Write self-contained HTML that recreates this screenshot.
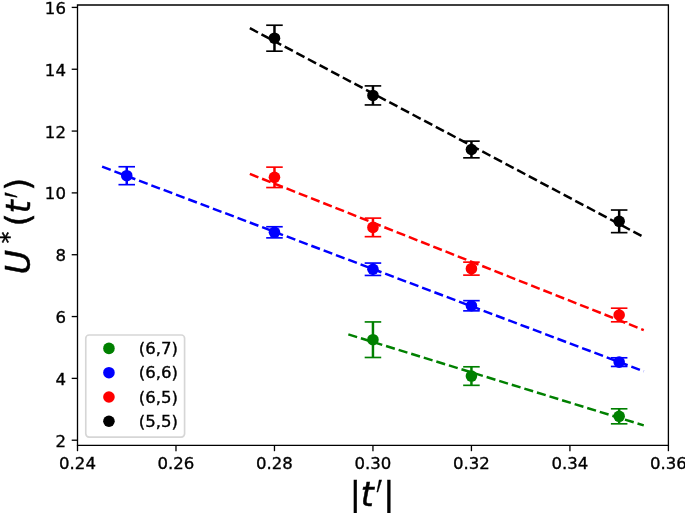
<!DOCTYPE html>
<html><head><meta charset="utf-8"><title>U*(t') vs |t'|</title>
<style>html,body{margin:0;padding:0;background:#fff;width:685px;height:513px;overflow:hidden}svg{display:block}</style>
</head><body>
<svg width="685" height="513" viewBox="0 0 685 513">
<rect width="685" height="513" fill="#fff"/>
<g stroke="#000000" fill="none">
<line x1="274.47" y1="51.19" x2="274.47" y2="25.22" stroke-width="2.482"/>
<line x1="372.95" y1="104.94" x2="372.95" y2="85.90" stroke-width="2.482"/>
<line x1="471.43" y1="157.84" x2="471.43" y2="141.14" stroke-width="2.482"/>
<line x1="619.16" y1="232.65" x2="619.16" y2="210.02" stroke-width="2.482"/>
<line x1="266.19" y1="51.19" x2="282.74" y2="51.19" stroke-width="1.655"/>
<line x1="266.19" y1="25.22" x2="282.74" y2="25.22" stroke-width="1.655"/>
<line x1="364.68" y1="104.94" x2="381.22" y2="104.94" stroke-width="1.655"/>
<line x1="364.68" y1="85.90" x2="381.22" y2="85.90" stroke-width="1.655"/>
<line x1="463.16" y1="157.84" x2="479.71" y2="157.84" stroke-width="1.655"/>
<line x1="463.16" y1="141.14" x2="479.71" y2="141.14" stroke-width="1.655"/>
<line x1="610.88" y1="232.65" x2="627.43" y2="232.65" stroke-width="1.655"/>
<line x1="610.88" y1="210.02" x2="627.43" y2="210.02" stroke-width="1.655"/>
<line x1="249.85" y1="28.17" x2="643.78" y2="237.12" stroke-width="2.482" stroke-dasharray="9.184,3.972"/>
</g>
<g stroke="#ff0000" fill="none">
<line x1="274.47" y1="187.55" x2="274.47" y2="167.14" stroke-width="2.482"/>
<line x1="372.95" y1="236.67" x2="372.95" y2="218.12" stroke-width="2.482"/>
<line x1="471.43" y1="275.13" x2="471.43" y2="262.14" stroke-width="2.482"/>
<line x1="619.16" y1="321.81" x2="619.16" y2="308.20" stroke-width="2.482"/>
<line x1="266.19" y1="187.55" x2="282.74" y2="187.55" stroke-width="1.655"/>
<line x1="266.19" y1="167.14" x2="282.74" y2="167.14" stroke-width="1.655"/>
<line x1="364.68" y1="236.67" x2="381.22" y2="236.67" stroke-width="1.655"/>
<line x1="364.68" y1="218.12" x2="381.22" y2="218.12" stroke-width="1.655"/>
<line x1="463.16" y1="275.13" x2="479.71" y2="275.13" stroke-width="1.655"/>
<line x1="463.16" y1="262.14" x2="479.71" y2="262.14" stroke-width="1.655"/>
<line x1="610.88" y1="321.81" x2="627.43" y2="321.81" stroke-width="1.655"/>
<line x1="610.88" y1="308.20" x2="627.43" y2="308.20" stroke-width="1.655"/>
<line x1="249.85" y1="173.90" x2="643.78" y2="330.05" stroke-width="2.482" stroke-dasharray="9.184,3.972"/>
</g>
<g stroke="#0000ff" fill="none">
<line x1="126.74" y1="184.67" x2="126.74" y2="166.74" stroke-width="2.482"/>
<line x1="274.47" y1="237.87" x2="274.47" y2="226.75" stroke-width="2.482"/>
<line x1="372.95" y1="275.44" x2="372.95" y2="263.07" stroke-width="2.482"/>
<line x1="471.43" y1="310.86" x2="471.43" y2="300.66" stroke-width="2.482"/>
<line x1="619.16" y1="366.45" x2="619.16" y2="357.79" stroke-width="2.482"/>
<line x1="118.47" y1="184.67" x2="135.02" y2="184.67" stroke-width="1.655"/>
<line x1="118.47" y1="166.74" x2="135.02" y2="166.74" stroke-width="1.655"/>
<line x1="266.19" y1="237.87" x2="282.74" y2="237.87" stroke-width="1.655"/>
<line x1="266.19" y1="226.75" x2="282.74" y2="226.75" stroke-width="1.655"/>
<line x1="364.68" y1="275.44" x2="381.22" y2="275.44" stroke-width="1.655"/>
<line x1="364.68" y1="263.07" x2="381.22" y2="263.07" stroke-width="1.655"/>
<line x1="463.16" y1="310.86" x2="479.71" y2="310.86" stroke-width="1.655"/>
<line x1="463.16" y1="300.66" x2="479.71" y2="300.66" stroke-width="1.655"/>
<line x1="610.88" y1="366.45" x2="627.43" y2="366.45" stroke-width="1.655"/>
<line x1="610.88" y1="357.79" x2="627.43" y2="357.79" stroke-width="1.655"/>
<line x1="102.12" y1="166.71" x2="643.78" y2="371.34" stroke-width="2.482" stroke-dasharray="9.184,3.972"/>
</g>
<g stroke="#008000" fill="none">
<line x1="372.95" y1="357.48" x2="372.95" y2="321.93" stroke-width="2.482"/>
<line x1="471.43" y1="385.33" x2="471.43" y2="366.79" stroke-width="2.482"/>
<line x1="619.16" y1="423.82" x2="619.16" y2="408.80" stroke-width="2.482"/>
<line x1="364.68" y1="357.48" x2="381.22" y2="357.48" stroke-width="1.655"/>
<line x1="364.68" y1="321.93" x2="381.22" y2="321.93" stroke-width="1.655"/>
<line x1="463.16" y1="385.33" x2="479.71" y2="385.33" stroke-width="1.655"/>
<line x1="463.16" y1="366.79" x2="479.71" y2="366.79" stroke-width="1.655"/>
<line x1="610.88" y1="423.82" x2="627.43" y2="423.82" stroke-width="1.655"/>
<line x1="610.88" y1="408.80" x2="627.43" y2="408.80" stroke-width="1.655"/>
<line x1="348.33" y1="334.38" x2="643.78" y2="425.40" stroke-width="2.482" stroke-dasharray="9.184,3.972"/>
</g>
<g fill="#000000"><circle cx="274.47" cy="38.20" r="5.792"/><circle cx="372.95" cy="95.42" r="5.792"/><circle cx="471.43" cy="149.49" r="5.792"/><circle cx="619.16" cy="221.34" r="5.792"/></g>
<g fill="#ff0000"><circle cx="274.47" cy="177.35" r="5.792"/><circle cx="372.95" cy="227.39" r="5.792"/><circle cx="471.43" cy="268.63" r="5.792"/><circle cx="619.16" cy="315.00" r="5.792"/></g>
<g fill="#0000ff"><circle cx="126.74" cy="175.71" r="5.792"/><circle cx="274.47" cy="232.31" r="5.792"/><circle cx="372.95" cy="269.25" r="5.792"/><circle cx="471.43" cy="305.76" r="5.792"/><circle cx="619.16" cy="362.12" r="5.792"/></g>
<g fill="#008000"><circle cx="372.95" cy="339.71" r="5.792"/><circle cx="471.43" cy="376.06" r="5.792"/><circle cx="619.16" cy="416.31" r="5.792"/></g>
<g stroke="#000" stroke-width="1.324" stroke-linecap="square" fill="none">
<path d="M77.5 445.4V5.0M668.4 445.4V5.0M77.5 445.4H668.4M77.5 5.0H668.4"/>
<path d="M77.50 445.4v5.792" stroke-linecap="butt"/>
<path d="M175.98 445.4v5.792" stroke-linecap="butt"/>
<path d="M274.47 445.4v5.792" stroke-linecap="butt"/>
<path d="M372.95 445.4v5.792" stroke-linecap="butt"/>
<path d="M471.43 445.4v5.792" stroke-linecap="butt"/>
<path d="M569.92 445.4v5.792" stroke-linecap="butt"/>
<path d="M668.40 445.4v5.792" stroke-linecap="butt"/>
<path d="M77.5 440.21h-5.792" stroke-linecap="butt"/>
<path d="M77.5 378.38h-5.792" stroke-linecap="butt"/>
<path d="M77.5 316.55h-5.792" stroke-linecap="butt"/>
<path d="M77.5 254.72h-5.792" stroke-linecap="butt"/>
<path d="M77.5 192.89h-5.792" stroke-linecap="butt"/>
<path d="M77.5 131.07h-5.792" stroke-linecap="butt"/>
<path d="M77.5 69.24h-5.792" stroke-linecap="butt"/>
<path d="M77.5 7.41h-5.792" stroke-linecap="butt"/>
</g>
<g font-family="'DejaVu Sans', 'Liberation Sans', sans-serif" font-size="16.549" fill="#000" stroke="#000" stroke-width="0.35">
<text x="77.50" y="469.36" text-anchor="middle">0.24</text>
<text x="175.98" y="469.36" text-anchor="middle">0.26</text>
<text x="274.47" y="469.36" text-anchor="middle">0.28</text>
<text x="372.95" y="469.36" text-anchor="middle">0.30</text>
<text x="471.43" y="469.36" text-anchor="middle">0.32</text>
<text x="569.92" y="469.36" text-anchor="middle">0.34</text>
<text x="668.40" y="469.36" text-anchor="middle">0.36</text>
<text x="65.92" y="446.69" text-anchor="end">2</text>
<text x="65.92" y="384.87" text-anchor="end">4</text>
<text x="65.92" y="323.04" text-anchor="end">6</text>
<text x="65.92" y="261.21" text-anchor="end">8</text>
<text x="65.92" y="199.38" text-anchor="end">10</text>
<text x="65.92" y="137.55" text-anchor="end">12</text>
<text x="65.92" y="75.73" text-anchor="end">14</text>
<text x="65.92" y="13.90" text-anchor="end">16</text>
</g>
<g font-family="'DejaVu Sans', 'Liberation Sans', sans-serif" fill="#000" stroke="#000" stroke-width="0.5" transform="translate(349.69 506.44)"><text font-size="33.097" y="-0.85"><tspan x="0">|</tspan><tspan x="11.15" font-style="oblique">t</tspan><tspan x="33.60">|</tspan></text><text font-size="27.00" stroke-width="0.2" transform="translate(26.46 21.43) scale(1 2.4333)">′</text></g>
<g font-family="'DejaVu Sans', 'Liberation Sans', sans-serif" fill="#000" stroke="#000" stroke-width="0.5" transform="translate(31.96 274.22) rotate(-90)"><text font-size="33.097" y="-1.58"><tspan x="0" font-style="oblique">U</tspan><tspan x="48.06">(</tspan><tspan x="60.98" font-style="oblique">t</tspan><tspan x="83.43">)</tspan></text><text font-size="23.168" y="-15.35" x="31.06">*</text><text font-size="27.00" stroke-width="0.2" transform="translate(76.28 20.70) scale(1 2.4333)">′</text></g>
<rect x="85.77" y="335.00" width="98.81" height="102.13" rx="3.31" fill="#fff" fill-opacity="0.8" stroke="#cccccc" stroke-opacity="0.8" stroke-width="1.655"/>
<circle cx="108.94" cy="348.40" r="5.792" fill="#008000"/>
<text x="138.73" y="354.19" font-family="'DejaVu Sans', 'Liberation Sans', sans-serif" font-size="16.549" stroke="#000" stroke-width="0.35">(6,7)</text>
<circle cx="108.94" cy="372.69" r="5.792" fill="#0000ff"/>
<text x="138.73" y="378.48" font-family="'DejaVu Sans', 'Liberation Sans', sans-serif" font-size="16.549" stroke="#000" stroke-width="0.35">(6,6)</text>
<circle cx="108.94" cy="396.98" r="5.792" fill="#ff0000"/>
<text x="138.73" y="402.77" font-family="'DejaVu Sans', 'Liberation Sans', sans-serif" font-size="16.549" stroke="#000" stroke-width="0.35">(6,5)</text>
<circle cx="108.94" cy="421.27" r="5.792" fill="#000000"/>
<text x="138.73" y="427.06" font-family="'DejaVu Sans', 'Liberation Sans', sans-serif" font-size="16.549" stroke="#000" stroke-width="0.35">(5,5)</text>
</svg>
</body></html>
